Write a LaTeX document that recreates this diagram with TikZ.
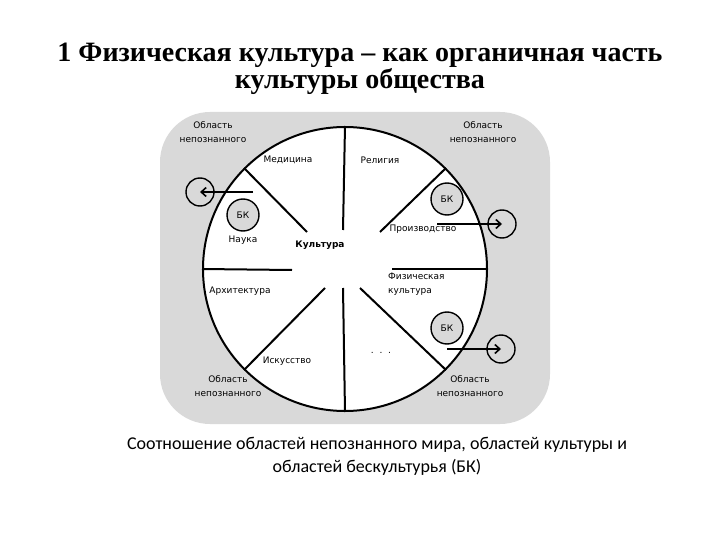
\documentclass[tikz,border=0pt]{standalone}
\usepackage{fontspec}
\setmainfont{Liberation Serif}
\newfontfamily\smallsans{DejaVu Sans}
\newfontfamily\capfont{Carlito}
\usetikzlibrary{arrows.meta}
\definecolor{bggray}{HTML}{D9D9D9}
\tikzset{
  x=1pt,y=-1pt,
  lbl/.style={font=\smallsans\fontsize{9}{14}\selectfont, inner sep=0pt, align=center},
  divider/.style={line width=2pt},
  bkcirc/.style={circle, draw, line width=1.4pt, fill=bggray, minimum size=32pt, inner sep=0pt, font=\smallsans\fontsize{9}{10}\selectfont},
  outcirc/.style={circle, draw, line width=1.4pt, minimum size=28pt, inner sep=0pt},
  arr/.style={line width=1.6pt, -{Straight Barb[length=5pt,width=9pt,line width=1.6pt]}},
}
\begin{document}
\begin{tikzpicture}
\useasboundingbox (0,0) rectangle (720,540);
% title
\node[font=\bfseries\fontsize{28}{23}\selectfont, align=center] (title) at (360,69) {1 Физическая культура – как органичная часть\\культуры общества};
% gray area
\fill[bggray, rounded corners=50pt] (160,112) rectangle (550,424);
% big circle
\node[circle, draw, line width=2pt, fill=white, minimum size=284pt, inner sep=0pt] (c) at (345,269) {};
% dividers
\draw[divider] (c.north) -- (343,230);
\draw[divider] (343,288) -- (c.south);
\draw[divider] (c.135) -- (307,232);
\draw[divider] (c.45) -- (380,232);
\draw[divider] (c.west) -- (292,270);
\draw[divider] (392,269) -- (c.east);
\draw[divider] (325,288) -- (c.225);
\draw[divider] (360,288) -- (c.315);
% labels
\node[lbl] (om1) at (213,132) {Область\\непознанного};
\node[lbl] (om2) at (483,132) {Область\\непознанного};
\node[lbl] (om3) at (228,386) {Область\\непознанного};
\node[lbl] (om4) at (470,386) {Область\\непознанного};
\node[lbl] (med) at (288,160) {Медицина};
\node[lbl] (rel) at (380,160) {Религия};
\node[lbl] (nau) at (243,240) {Наука};
\node[lbl, font=\smallsans\bfseries\fontsize{9}{10}\selectfont] (kul) at (320,245) {Культура};
\node[lbl] (pro) at (423,229) {Производство};
\node[lbl, align=left, anchor=west] (fiz) at (388,284) {Физическая\\культура};
\node[lbl] (arh) at (240,291) {Архитектура};
\node[lbl] (isk) at (287,361) {Искусство};
\node[lbl] (dots) at (381,353) {.\ \ .\ \ .};
% BK circles
\node[bkcirc] (bk1) at (243,215) {БК};
\node[bkcirc] (bk2) at (447,199) {БК};
\node[bkcirc] (bk3) at (447,328) {БК};
% outer circles and arrows
\node[outcirc] (o1) at (200,192) {};
\node[outcirc] (o2) at (502,224) {};
\node[outcirc] (o3) at (501,349) {};
\coordinate (s1) at (253,192);
\coordinate (s2) at (437,224);
\coordinate (s3) at (447,349);
\draw[arr] (s1) -- (o1.center);
\draw[arr] (s2) -- (o2.center);
\draw[arr] (s3) -- (o3.center);
% caption
\node[font=\capfont\fontsize{18}{23}\selectfont, align=center] (cap) at (377,456) {Соотношение областей непознанного мира, областей культуры и\\областей бескультурья (БК)};
\end{tikzpicture}
\end{document}
